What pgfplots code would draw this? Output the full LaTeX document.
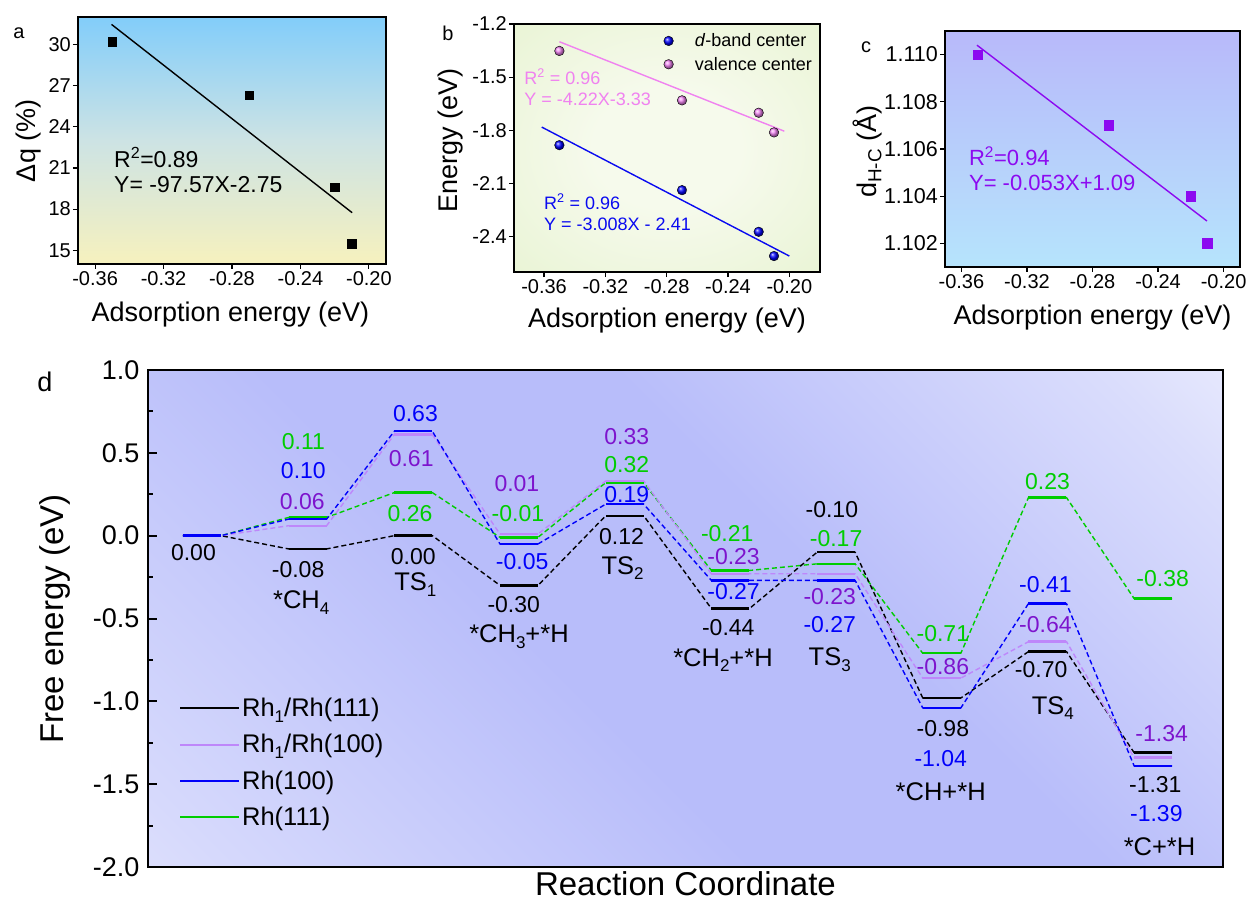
\documentclass[border=0pt]{standalone}
\usepackage{fontspec}
\setmainfont{Liberation Sans}
\usepackage{pgfplots}
\pgfplotsset{compat=1.18}
\usetikzlibrary{shadings}

\definecolor{dpl}{RGB}{190,135,250}
\definecolor{dpt}{RGB}{125,20,205}
\definecolor{dbl}{RGB}{0,0,250}
\definecolor{dgr}{RGB}{0,205,0}
\definecolor{cpu}{RGB}{140,10,240}
\definecolor{bpk}{RGB}{240,130,240}
\definecolor{bbl}{RGB}{10,10,240}
\definecolor{aTop}{RGB}{130,205,250}
\definecolor{aMid}{RGB}{205,227,228}
\definecolor{aBot}{RGB}{246,241,190}
\definecolor{bIn}{RGB}{246,250,236}
\definecolor{bMid}{RGB}{226,241,200}
\definecolor{bOut}{RGB}{210,235,168}
\definecolor{cTop}{RGB}{184,185,250}
\definecolor{cBot}{RGB}{182,228,252}
\definecolor{dW1}{RGB}{242,242,254}
\definecolor{dM1}{RGB}{214,217,252}
\definecolor{dB}{RGB}{184,189,250}
\definecolor{dM2}{RGB}{218,221,252}
\definecolor{dW2}{RGB}{252,252,255}
\pgfdeclarehorizontalshading{dshade}{100bp}{color(0bp)=(dW1); color(18bp)=(dM1); color(42bp)=(dB); color(58bp)=(dB); color(80bp)=(dM2); color(96bp)=(dW2); color(100bp)=(dW2)}
\pgfdeclareradialshading{bshade}{\pgfpoint{0bp}{0bp}}{color(0bp)=(bIn); color(12bp)=(bIn); color(50bp)=(bMid); color(71bp)=(bOut)}

\pgfplotsset{
  smallax/.style={
    scale only axis, anchor=north west, clip=false,
    axis line style={line width=1.4pt},
    tick align=outside, xtick pos=bottom, ytick pos=left,
    major tick length=5pt, every tick/.style={black, line width=1.2pt},
    tick label style={font=\fontsize{20}{24}\selectfont, inner sep=2pt},
    label style={font=\fontsize{27}{32}\selectfont},
    /pgf/number format/assume math mode=true,
    scaled ticks=false,
    xmin=-0.37, xmax=-0.19, xtick={-0.36,-0.32,-0.28,-0.24,-0.20},
    xticklabel style={/pgf/number format/fixed, /pgf/number format/fixed zerofill, /pgf/number format/precision=2},
  }
}
\newcommand\dfont{\fontsize{23}{25}\selectfont}
\newcommand\nfont{\fontsize{25.5}{28}\selectfont}
\newcommand\sub[1]{\raisebox{-0.22em}{\fontsize{17}{17}\selectfont #1}}
\newcommand\lab[4]{\node[font=\dfont, text=#3, inner sep=0pt] at (axis cs:#1,#2) {#4};}
\newcommand\nam[3]{\node[font=\nfont, text=black, inner sep=0pt] at (axis cs:#1,#2) {#3};}

\begin{document}
\begin{tikzpicture}
\useasboundingbox (0pt,0pt) rectangle (1248pt,-901pt);

% ---------------- panel a
\begin{axis}[smallax, at={(78pt,-17pt)}, width=308pt, height=247pt,
  ymin=14, ymax=32, ytick={15,18,21,24,27,30},
  axis background/.style={top color=aTop, bottom color=aBot, middle color=aMid},
  xlabel={Adsorption energy (eV)}, ylabel={Δq (\%)},
  xlabel style={at={(axis description cs:0.495,-0.206)}, anchor=center},
  ylabel style={at={(axis description cs:-0.162,0.499)}, anchor=center},
]
\addplot[black, line width=1.4pt] coordinates {(-0.3504,31.46) (-0.2098,17.74)};
\addplot[only marks, mark=square*, mark size=4.3pt, black] coordinates {(-0.35,30.2) (-0.27,26.3) (-0.22,19.6) (-0.21,15.5)};
\node[anchor=west, inner sep=0pt, font=\fontsize{23}{27}\selectfont] at (rel axis cs:0.117,0.433) {R\textsuperscript{2}=0.89};
\node[anchor=west, inner sep=0pt, font=\fontsize{23}{27}\selectfont] at (rel axis cs:0.117,0.32) {Y= -97.57X-2.75};
\end{axis}

% ---------------- panel b
\begin{axis}[smallax, at={(514pt,-24pt)}, width=306pt, height=248pt,
  xmin=-0.3796, xmax=-0.18, ymin=-2.6, ymax=-1.2, ytick={-2.4,-2.1,-1.8,-1.5,-1.2},
  yticklabel style={/pgf/number format/fixed, /pgf/number format/fixed zerofill, /pgf/number format/precision=1},
  axis background/.style={shade, shading=bshade},
  xlabel={Adsorption energy (eV)}, ylabel={Energy (eV)},
  xlabel style={at={(axis description cs:0.5,-0.194)}, anchor=center},
  ylabel style={at={(axis description cs:-0.209,0.529)}, anchor=center},
  legend style={at={(0.468,0.978)}, anchor=north west, draw=none, fill=none, font=\fontsize{18}{21}\selectfont, row sep=4.8pt},
  legend cell align=left,
  legend image code/.code={\draw[#1] plot coordinates {(8pt,0pt)}; \path (0pt,0pt) (32pt,0pt);},
]
\addplot[bbl, line width=1.4pt, forget plot] coordinates {(-0.3615,-1.782) (-0.20,-2.51)};
\addplot[bpk, line width=1.4pt, forget plot] coordinates {(-0.350,-1.30) (-0.2033,-1.805)};
\addplot[only marks, mark=ball, ball color=blue, mark size=4.8pt] coordinates {(-0.35,-1.884) (-0.27,-2.138) (-0.22,-2.373) (-0.21,-2.51)};
\addplot[only marks, mark=ball, ball color=bpk, mark size=4.8pt] coordinates {(-0.35,-1.352) (-0.27,-1.631) (-0.22,-1.701) (-0.21,-1.812)};
\legend{\textit{d}-band center, valence center}
\node[anchor=west, inner sep=0pt, text=bpk, font=\fontsize{18}{21}\selectfont] at (rel axis cs:0.033,0.787) {R\textsuperscript{2} = 0.96};
\node[anchor=west, inner sep=0pt, text=bpk, font=\fontsize{18}{21}\selectfont] at (rel axis cs:0.033,0.696) {Y = -4.22X-3.33};
\node[anchor=west, inner sep=0pt, text=bbl, font=\fontsize{18}{21}\selectfont] at (rel axis cs:0.098,0.283) {R\textsuperscript{2} = 0.96};
\node[anchor=west, inner sep=0pt, text=bbl, font=\fontsize{18}{21}\selectfont] at (rel axis cs:0.098,0.194) {Y = -3.008X - 2.41};
\end{axis}

% ---------------- panel c
\begin{axis}[smallax, at={(945pt,-31pt)}, width=295pt, height=236pt,
  ymin=1.101, ymax=1.111, ytick={1.102,1.104,1.106,1.108,1.110},
  yticklabel style={font=\fontsize{21.5}{24}\selectfont, /pgf/number format/fixed, /pgf/number format/fixed zerofill, /pgf/number format/precision=3},
  axis background/.style={top color=cTop, bottom color=cBot},
  xlabel={Adsorption energy (eV)}, ylabel={d\textsubscript{H-C} (Å)},
  xlabel style={at={(axis description cs:0.5,-0.216)}, anchor=center},
  ylabel style={at={(axis description cs:-0.262,0.489)}, anchor=center},
]
\addplot[cpu, line width=1.4pt] coordinates {(-0.3505,1.1104) (-0.2102,1.10295)};
\addplot[only marks, mark=square*, mark size=4.7pt, cpu] coordinates {(-0.35,1.110) (-0.27,1.107) (-0.22,1.104) (-0.21,1.102)};
\node[anchor=west, inner sep=0pt, text=cpu, font=\fontsize{22}{26}\selectfont] at (rel axis cs:0.081,0.47) {R\textsuperscript{2}=0.94};
\node[anchor=west, inner sep=0pt, text=cpu, font=\fontsize{22}{26}\selectfont] at (rel axis cs:0.081,0.355) {Y= -0.053X+1.09};
\end{axis}

% ---------------- panel d
\begin{axis}[at={(148pt,-370pt)}, anchor=north west, scale only axis, width=1075pt, height=497pt,
  clip=false,
  xmin=-0.51, xmax=9.66, ymin=-2, ymax=1, xtick=\empty, ytick={-2,-1.5,-1,-0.5,0,0.5,1}, minor y tick num=1,
  ytick pos=left, tick align=inside, major tick length=9pt, minor tick length=5pt,
  axis line style={line width=2.5pt}, every tick/.style={black, line width=2pt},
  /pgf/number format/assume math mode=true,
  yticklabel style={font=\fontsize{27}{30}\selectfont, xshift=-5pt, /pgf/number format/fixed, /pgf/number format/fixed zerofill, /pgf/number format/precision=1},
  axis background/.style={shade, shading=dshade, shading angle=45},
  label style={font=\fontsize{33}{38}\selectfont},
  xlabel={Reaction Coordinate}, ylabel={Free energy (eV)},
  xlabel style={at={(axis description cs:0.5,-0.034)}, anchor=center, inner sep=0pt},
  ylabel style={at={(axis description cs:-0.0865,0.499)}, anchor=center, inner sep=0pt},
  legend style={at={(0.026,0.348)}, anchor=north west, draw=none, fill=none, font=\fontsize{25.5}{28}\selectfont, row sep=12.3pt},
  legend cell align=left,
  legend image code/.code={\draw[#1] (0pt,0pt) -- (59pt,0pt);},
]
\addlegendimage{black, line width=2pt}
\addlegendimage{dpl, line width=2pt}
\addlegendimage{dbl, line width=2pt}
\addlegendimage{dgr, line width=2pt}
\legend{Rh\sub{1}/Rh(111), Rh\sub{1}/Rh(100), Rh(100), Rh(111)}

% Rh(111) green
\addplot[forget plot, dgr, line width=1.4pt, dash pattern=on 5pt off 3pt] coordinates {(-0.18,0) (0.18,0) (0.82,0.11) (1.18,0.11) (1.82,0.26) (2.18,0.26) (2.82,-0.01) (3.18,-0.01) (3.82,0.32) (4.18,0.32) (4.82,-0.21) (5.18,-0.21) (5.82,-0.17) (6.18,-0.17) (6.82,-0.71) (7.18,-0.71) (7.82,0.23) (8.18,0.23) (8.82,-0.38) (9.18,-0.38)};
\addplot[forget plot, dgr, only marks, mark=-, mark size=19pt, mark options={solid, line width=2.4pt}] coordinates {(0,0) (1,0.11) (2,0.26) (3,-0.01) (4,0.32) (5,-0.21) (6,-0.17) (7,-0.71) (8,0.23) (9,-0.38)};
% Rh1/Rh(111) black
\addplot[forget plot, black, line width=1.4pt, dash pattern=on 5pt off 3pt] coordinates {(-0.18,0) (0.18,0) (0.82,-0.08) (1.18,-0.08) (1.82,0) (2.18,0) (2.82,-0.30) (3.18,-0.30) (3.82,0.12) (4.18,0.12) (4.82,-0.44) (5.18,-0.44) (5.82,-0.10) (6.18,-0.10) (6.82,-0.98) (7.18,-0.98) (7.82,-0.70) (8.18,-0.70) (8.82,-1.31) (9.18,-1.31)};
\addplot[forget plot, black, only marks, mark=-, mark size=19pt, mark options={solid, line width=2.4pt}] coordinates {(0,0) (1,-0.08) (2,0) (3,-0.30) (4,0.12) (5,-0.44) (6,-0.10) (7,-0.98) (8,-0.70) (9,-1.31)};
% Rh1/Rh(100) purple
\addplot[forget plot, dpl, line width=1.4pt, dash pattern=on 5pt off 3pt] coordinates {(-0.18,0) (0.18,0) (0.82,0.06) (1.18,0.06) (1.82,0.61) (2.18,0.61) (2.82,0.01) (3.18,0.01) (3.82,0.33) (4.18,0.33) (4.82,-0.23) (5.18,-0.23) (5.82,-0.23) (6.18,-0.23) (6.82,-0.86) (7.18,-0.86) (7.82,-0.64) (8.18,-0.64) (8.82,-1.34) (9.18,-1.34)};
\addplot[forget plot, dpl, only marks, mark=-, mark size=19pt, mark options={solid, line width=2.4pt}] coordinates {(0,0) (1,0.06) (2,0.61) (3,0.01) (4,0.33) (5,-0.23) (6,-0.23) (7,-0.86) (8,-0.64) (9,-1.34)};
% Rh(100) blue
\addplot[forget plot, dbl, line width=1.4pt, dash pattern=on 5pt off 3pt] coordinates {(-0.18,0) (0.18,0) (0.82,0.10) (1.18,0.10) (1.82,0.63) (2.18,0.63) (2.82,-0.05) (3.18,-0.05) (3.82,0.19) (4.18,0.19) (4.82,-0.27) (5.18,-0.27) (5.82,-0.27) (6.18,-0.27) (6.82,-1.04) (7.18,-1.04) (7.82,-0.41) (8.18,-0.41) (8.82,-1.39) (9.18,-1.39)};
\addplot[forget plot, dbl, only marks, mark=-, mark size=19pt, mark options={solid, line width=2.4pt}] coordinates {(0,0) (1,0.10) (2,0.63) (3,-0.05) (4,0.19) (5,-0.27) (6,-0.27) (7,-1.04) (8,-0.41) (9,-1.39)};

% labels
\lab{-0.08}{-0.10}{black}{0.00}
\lab{0.96}{0.567}{dgr}{0.11}
\lab{0.96}{0.392}{dbl}{0.10}
\lab{0.95}{0.205}{dpt}{0.06}
\lab{0.91}{-0.207}{black}{-0.08}
\nam{0.94}{-0.405}{*CH\sub{4}}
\lab{2.02}{0.739}{dbl}{0.63}
\lab{1.98}{0.467}{dpt}{0.61}
\lab{1.97}{0.135}{dgr}{0.26}
\lab{2.00}{-0.127}{black}{0.00}
\nam{2.02}{-0.295}{TS\sub{1}}
\lab{2.98}{0.316}{dpt}{0.01}
\lab{2.99}{0.135}{dgr}{-0.01}
\lab{3.03}{-0.157}{dbl}{-0.05}
\lab{2.95}{-0.418}{black}{-0.30}
\nam{3.00}{-0.61}{*CH\sub{3}+*H}
\lab{4.02}{0.598}{dpt}{0.33}
\lab{4.02}{0.427}{dgr}{0.32}
\lab{4.02}{0.246}{dbl}{0.19}
\lab{3.97}{-0.006}{black}{0.12}
\nam{3.98}{-0.195}{TS\sub{2}}
\lab{4.97}{0.014}{dgr}{-0.21}
\lab{5.03}{-0.125}{dpt}{-0.23}
\lab{5.03}{-0.338}{dbl}{-0.27}
\lab{4.98}{-0.553}{black}{-0.44}
\nam{4.93}{-0.75}{*CH\sub{2}+*H}
\lab{5.96}{0.155}{black}{-0.10}
\lab{6.00}{-0.016}{dgr}{-0.17}
\lab{5.94}{-0.368}{dpt}{-0.23}
\lab{5.94}{-0.539}{dbl}{-0.27}
\nam{5.94}{-0.75}{TS\sub{3}}
\lab{7.01}{-0.589}{dgr}{-0.71}
\lab{7.01}{-0.79}{dpt}{-0.86}
\lab{7.01}{-1.163}{black}{-0.98}
\lab{6.99}{-1.343}{dbl}{-1.04}
\nam{6.99}{-1.545}{*CH+*H}
\lab{8.00}{0.326}{dgr}{0.23}
\lab{7.98}{-0.297}{dbl}{-0.41}
\lab{7.98}{-0.539}{dpt}{-0.64}
\lab{7.94}{-0.81}{black}{-0.70}
\nam{8.05}{-1.04}{TS\sub{4}}
\lab{9.09}{-0.258}{dgr}{-0.38}
\lab{9.08}{-1.193}{dpt}{-1.34}
\lab{9.02}{-1.505}{black}{-1.31}
\lab{9.03}{-1.675}{dbl}{-1.39}
\nam{9.06}{-1.877}{*C+*H}
\end{axis}

\node[font=\fontsize{20}{22}\selectfont] at (19pt,-33pt) {a};
\node[font=\fontsize{20}{22}\selectfont] at (448pt,-33pt) {b};
\node[font=\fontsize{20}{22}\selectfont] at (866pt,-47pt) {c};
\node[font=\fontsize{27}{30}\selectfont] at (45pt,-382pt) {d};
\end{tikzpicture}
\end{document}
